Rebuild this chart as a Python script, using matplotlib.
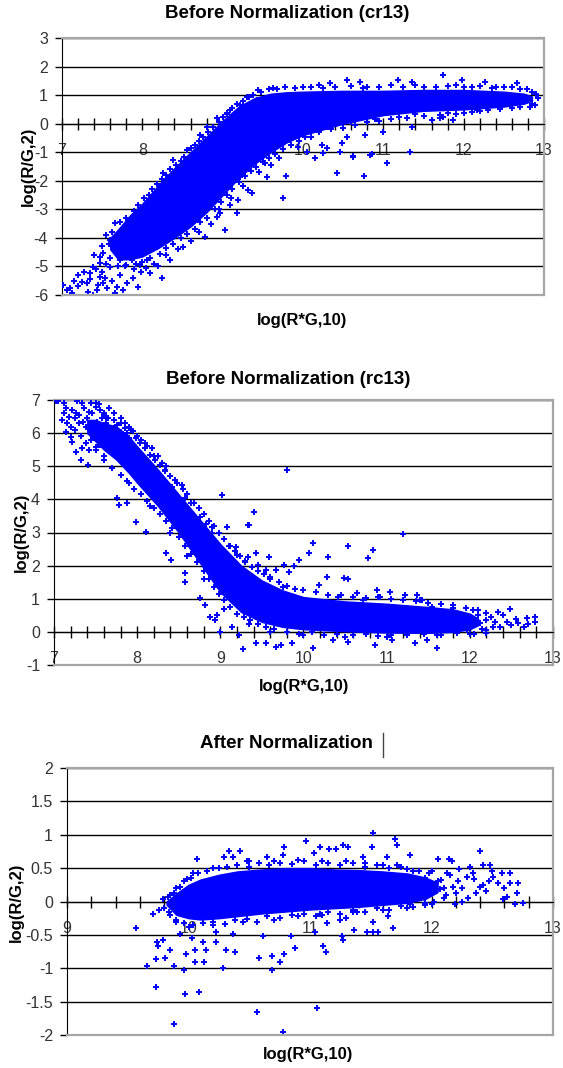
import numpy as np
import matplotlib.pyplot as plt
from matplotlib.ticker import MultipleLocator, FuncFormatter
from matplotlib.lines import Line2D

plt.rcParams['font.family'] = ['Liberation Sans', 'DejaVu Sans']
plt.rcParams['axes.unicode_minus'] = False

# ---- panel 1: before normalization (cr13) ----
# solid (saturated) part of the cloud: x, upper edge, lower edge
cr_core_x = [7.6, 7.7, 7.85, 8.0, 8.2, 8.4, 8.6, 8.8, 9.0, 9.2, 9.4, 9.6, 9.8, 10.0, 10.5, 11.0, 11.5, 12.0, 12.5, 12.75, 12.85]
cr_core_hi = [-4.0, -3.7, -3.2, -2.8, -2.15, -1.55, -1.0, -0.45, 0.1, 0.6, 0.9, 1.05, 1.1, 1.12, 1.15, 1.15, 1.18, 1.18, 1.12, 1.05, 0.95]
cr_core_lo = [-4.4, -4.75, -4.75, -4.65, -4.35, -4.0, -3.6, -3.1, -2.5, -1.9, -1.4, -1.0, -0.65, -0.4, 0.0, 0.3, 0.45, 0.5, 0.6, 0.7, 0.8]
# single spots outside the solid part
cr_pts = [
    (11.74, 1.7), (10.55, 1.53), (10.71, 1.46), (11.18, 1.53), (11.98, 1.53), (12.27, 1.46), (12.67, 1.43),
    (10.34, 1.43), (11.36, 1.46), (12.79, 1.21), (12.93, 0.9), (12.89, 0.65), (12.83, 0.58),
    (11.36, -0.12), (11.33, -0.99), (11.05, -1.38), (10.62, -1.17), (10.83, -1.1), (10.49, -0.68),
    (10.15, -1.2), (10.3, -0.85), (10.24, -0.75), (10.03, -0.47), (10.55, -0.47), (10.77, -0.4), (11.0, -0.29),
    (11.61, 0.13), (11.74, 0.23), (11.87, 0.13), (11.71, 0.2), (11.8, 0.37), (12.17, 0.48), (12.29, 0.58),
    (12.45, 0.55), (12.58, 0.62), (10.62, -1.13), (10.86, -1.06), (9.79, -1.83), (10.42, -1.73),
    (10.76, -1.83), (9.75, -2.6), (7.01, -5.65), (7.06, -5.82), (7.12, -5.93), (7.2, -5.68), (7.25, -5.54),
    (7.31, -5.58), (7.32, -5.89), (7.39, -6.0), (7.44, -5.82), (7.47, -5.37), (7.51, -5.58), (7.56, -5.75),
    (7.66, -5.93), (7.68, -5.72), (7.76, -5.82), (7.81, -5.58), (7.88, -5.4), (7.95, -5.72), (8.1, -5.23),
    (8.25, -5.4), (8.35, -4.77), (8.51, -4.32), (8.78, -3.97), (9.03, -3.72), (8.93, -3.27), (9.09, -2.85),
    (8.97, -3.13), (9.18, -3.13), (9.19, -2.67), (9.32, -2.32), (9.37, -2.43), (9.55, -1.87), (9.53, -1.38),
    (9.22, -1.87), (7.47, -4.88), (7.51, -4.53), (7.6, -4.07), (7.68, -4.0), (7.66, -3.48), (7.78, -3.62),
    (7.88, -3.27), (7.39, -5.02), (7.35, -5.23), (7.6, -5.02), (7.72, -4.77), (7.87, -4.77), (7.97, -4.95),
    (8.06, -4.77), (7.81, -4.42), (7.47, -4.67), (8.93, 0.2), (9.09, 0.48), (9.3, 0.93), (9.44, 1.18),
    (9.63, 1.25), (8.72, -0.4), (8.56, -0.92), (8.38, -1.27), (8.26, -1.73), (8.81, -0.12), (9.05, 0.37),
    (9.22, 0.65), (9.55, 0.83), (9.43, 0.83), (10.0, 1.3), (10.2, 1.35), (10.8, 1.3), (11.1, 1.35),
    (11.5, 1.3), (11.9, 1.35), (12.1, 1.3), (12.4, 1.3), (12.6, 1.28), (10.3, -0.1), (10.6, 0.05),
    (10.9, 0.15), (11.2, 0.25), (11.4, 0.35), (12.0, 0.38), (12.2, 0.45), (12.6, 0.55), (9.71, -0.33),
    (9.84, -0.57), (9.94, -0.82), (10.05, -0.99), (10.25, -1.03), (10.46, -0.99), (7.1, -5.75), (7.15, -5.5),
    (7.2, -5.3), (7.28, -5.2), (7.35, -5.45), (7.42, -5.1), (7.5, -5.2), (7.55, -4.9), (7.6, -4.7),
    (7.65, -4.4), (7.7, -4.2), (7.72, -5.3), (7.78, -5.0), (7.62, -5.5), (7.53, -5.4), (7.45, -5.65),
    (7.4, -4.6), (7.5, -4.3), (7.58, -4.2), (7.55, -3.9), (7.62, -3.8), (7.7, -3.95), (7.75, -4.45),
    (7.82, -3.9), (7.9, -5.1), (7.98, -5.2), (8.05, -5.05), (8.15, -4.9), (8.2, -5.0), (8.3, -4.6),
    (8.45, -4.4), (8.6, -4.1), (8.7, -3.8), (8.85, -3.5), (8.95, -3.0), (9.1, -2.6), (9.25, -2.2),
    (9.45, -1.7), (9.6, -1.45), (9.7, -1.2),
]
# spots hugging the edges of the solid part
cr_edge = [
    (7.72, -3.45), (7.8, -3.3), (7.9, -3.05), (7.95, -2.85), (8.02, -2.6), (8.08, -2.5), (8.12, -2.3),
    (8.18, -2.1), (8.24, -1.95), (8.3, -1.8), (8.35, -1.6), (8.42, -1.45), (8.48, -1.3), (8.52, -1.15),
    (8.6, -0.85), (8.65, -0.75), (8.7, -0.6), (8.75, -0.45), (8.82, -0.3), (8.88, -0.1), (8.95, 0.05),
    (9.0, 0.25), (9.06, 0.35), (9.12, 0.55), (9.18, 0.7), (9.25, 0.8), (9.33, 0.95), (9.38, 1.0),
    (9.48, 1.1), (9.58, 1.2), (9.68, 1.22), (9.78, 1.28), (9.9, 1.25), (10.1, 1.3), (10.25, 1.25),
    (10.4, 1.3), (10.6, 1.32), (10.75, 1.25), (10.95, 1.3), (11.25, 1.3), (11.4, 1.35), (11.65, 1.28),
    (11.8, 1.32), (12.0, 1.3), (12.2, 1.33), (12.35, 1.25), (12.5, 1.27), (12.7, 1.2), (12.85, 1.12),
    (12.9, 1.05), (7.7, -5.0), (7.8, -4.95), (7.92, -4.9), (8.0, -4.85), (8.1, -4.7), (8.22, -4.55),
    (8.3, -4.35), (8.38, -4.2), (8.48, -4.0), (8.55, -3.85), (8.65, -3.7), (8.72, -3.45), (8.8, -3.3),
    (8.9, -3.0), (8.98, -2.75), (9.05, -2.5), (9.12, -2.3), (9.2, -2.05), (9.28, -1.85), (9.35, -1.65),
    (9.42, -1.5), (9.5, -1.35), (9.58, -1.2), (9.65, -1.05), (9.75, -0.9), (9.85, -0.75), (9.95, -0.6),
    (10.1, -0.45), (10.2, -0.3), (10.35, -0.2), (10.5, -0.15), (10.65, -0.05), (10.8, 0.05), (10.95, 0.1),
    (11.1, 0.15), (11.3, 0.2), (11.5, 0.28), (11.7, 0.32), (11.9, 0.35), (12.1, 0.4), (12.3, 0.48),
    (12.45, 0.5), (12.7, 0.6), (12.85, 0.7),
]

# ---- panel 2: before normalization (rc13) ----
rc_core_x = [7.4, 7.5, 7.6, 7.75, 7.9, 8.0, 8.25, 8.5, 8.75, 9.0, 9.25, 9.5, 9.75, 10.0, 10.5, 11.0, 11.5, 11.8, 12.0, 12.1]
rc_core_hi = [6.4, 6.4, 6.3, 6.2, 5.9, 5.6, 4.9, 4.15, 3.4, 2.65, 2.0, 1.55, 1.25, 1.05, 0.92, 0.85, 0.75, 0.68, 0.55, 0.4]
rc_core_lo = [6.0, 5.75, 5.5, 5.2, 4.8, 4.5, 3.8, 3.0, 2.1, 1.2, 0.6, 0.3, 0.15, 0.08, 0.02, -0.02, -0.03, 0.0, 0.08, 0.2]
rc_pts = [
    (7.02, 6.97), (7.05, 6.97), (7.12, 6.9), (7.28, 6.97), (7.34, 6.9), (7.44, 6.9), (7.54, 6.88),
    (7.12, 6.6), (7.1, 6.4), (7.16, 6.3), (7.14, 6.03), (7.2, 5.88), (7.22, 5.73), (7.27, 5.43),
    (7.34, 5.55), (7.33, 5.19), (7.41, 5.04), (7.42, 5.49), (7.27, 6.6), (7.36, 6.76), (7.22, 6.7),
    (7.3, 6.3), (7.39, 6.18), (7.46, 6.6), (7.51, 6.79), (7.6, 6.6), (7.63, 6.49), (7.58, 6.0),
    (7.54, 5.79), (7.51, 5.58), (7.66, 5.88), (7.72, 6.15), (7.76, 6.24), (7.81, 6.03), (7.88, 6.0),
    (7.9, 5.85), (7.94, 5.43), (8.06, 5.19), (8.33, 4.89), (8.39, 4.37), (8.42, 4.37), (8.54, 4.43),
    (8.57, 4.04), (9.02, 4.13), (9.41, 3.62), (9.34, 3.22), (9.08, 3.16), (8.9, 3.16), (8.83, 3.25),
    (8.75, 3.46), (7.78, 3.83), (7.88, 3.89), (7.76, 4.04), (9.8, 4.89), (7.99, 3.31), (8.11, 3.01),
    (8.41, 2.17), (8.35, 2.38), (8.57, 1.77), (8.57, 1.5), (8.75, 1.02), (8.81, 0.81), (8.87, 0.45),
    (8.96, 0.51), (8.93, 0.36), (8.99, 0.0), (9.14, 0.14), (9.23, -0.09), (9.27, -0.52), (9.43, -0.34),
    (9.55, -0.34), (9.67, -0.46), (9.33, 3.22), (9.19, 2.56), (9.2, 2.32), (9.33, 2.26), (9.43, 2.38),
    (9.59, 2.26), (9.45, 2.02), (9.55, 1.86), (9.67, 1.86), (11.2, 2.95), (10.12, 2.68), (10.07, 2.38),
    (10.53, 2.59), (10.3, 2.26), (10.84, 2.47), (10.78, 2.23), (9.95, 2.17), (9.89, 1.99), (9.77, 2.02),
    (9.83, 1.8), (10.28, 1.65), (10.49, 1.62), (10.53, 1.59), (10.64, 1.17), (11.04, 1.2), (11.22, 1.11),
    (11.36, 1.11), (11.4, 0.96), (11.43, 0.96), (10.88, 1.26), (11.55, 0.75), (11.8, 0.72), (12.04, 0.66),
    (12.34, 0.6), (12.48, 0.69), (12.69, 0.42), (12.78, 0.45), (12.78, 0.3), (12.58, 0.27), (12.45, 0.3),
    (12.2, 0.36), (12.12, 0.27), (12.28, 0.14), (12.36, 0.14), (12.2, -0.03), (11.96, 0.06), (11.61, -0.49),
    (11.48, -0.25), (11.34, -0.34), (11.07, -0.25), (10.86, -0.4), (10.53, -0.31), (10.35, -0.25),
    (10.11, -0.49), (9.86, -0.34), (9.73, -0.4), (9.75, 1.35), (10.19, 1.41), (10.41, 1.05), (10.71, 0.96),
    (10.92, 1.05), (8.1, 5.7), (8.2, 5.3), (8.45, 4.6), (8.65, 3.9), (8.9, 3.0), (9.1, 2.6), (9.3, 2.1),
    (9.6, 1.65), (7.9, 4.5), (8.15, 3.8), (8.4, 3.0), (8.6, 2.3), (8.8, 1.6), (9.05, 0.7), (9.35, 0.25),
    (9.6, 0.0), (10.0, -0.1), (10.5, -0.15), (11.0, -0.15), (11.6, -0.1), (12.0, -0.05), (12.1, 0.5),
    (12.25, 0.45), (12.4, 0.5), (12.55, 0.4), (12.65, 0.15), (12.5, 0.2), (12.3, 0.3), (12.15, 0.1),
    (12.05, 0.35), (12.7, 0.25), (7.15, 6.75), (7.18, 6.5), (7.25, 6.45), (7.3, 6.55), (7.35, 6.35),
    (7.4, 6.45), (7.45, 6.25), (7.48, 6.05), (7.52, 6.35), (7.55, 6.2), (7.58, 6.45), (7.62, 6.3),
    (7.66, 6.1), (7.7, 5.95), (7.25, 6.1), (7.32, 5.9), (7.38, 5.7), (7.45, 5.8), (7.5, 5.5), (7.55, 5.65),
    (7.6, 5.3), (7.65, 5.6), (7.7, 5.45), (7.2, 6.2), (7.42, 6.65), (7.5, 6.9), (7.55, 6.7), (7.66, 6.75),
    (7.72, 6.6), (7.8, 6.45), (7.85, 6.3), (7.9, 6.2), (7.95, 6.05), (8.0, 5.9), (8.05, 5.8), (8.12, 5.6),
    (8.18, 5.55), (8.25, 5.3), (8.3, 5.1), (8.35, 5.0),
]
rc_edge = [
    (7.6, 6.55), (7.65, 6.45), (7.72, 6.4), (7.8, 6.3), (7.85, 6.15), (7.92, 6.1), (7.98, 5.85), (8.04, 5.7),
    (8.1, 5.55), (8.16, 5.35), (8.22, 5.2), (8.28, 5.05), (8.34, 4.85), (8.4, 4.7), (8.48, 4.5), (8.55, 4.3),
    (8.6, 4.15), (8.68, 3.9), (8.74, 3.75), (8.8, 3.55), (8.86, 3.35), (8.92, 3.2), (8.98, 3.0), (9.05, 2.8),
    (9.12, 2.6), (9.18, 2.45), (9.24, 2.3), (9.3, 2.15), (9.38, 1.95), (9.45, 1.85), (9.52, 1.75), (9.6, 1.6),
    (9.7, 1.5), (9.8, 1.4), (9.9, 1.3), (10.0, 1.25), (10.15, 1.2), (10.3, 1.1), (10.45, 1.12), (10.6, 1.05),
    (10.75, 1.02), (10.9, 1.05), (11.05, 0.98), (11.2, 0.95), (11.35, 0.92), (11.5, 0.88), (11.65, 0.85),
    (11.8, 0.8), (11.95, 0.72), (12.1, 0.65), (12.2, 0.58), (7.6, 5.2), (7.7, 4.95), (7.8, 4.75),
    (7.88, 4.55), (7.96, 4.3), (8.05, 4.15), (8.12, 3.95), (8.2, 3.75), (8.28, 3.55), (8.35, 3.35),
    (8.42, 3.15), (8.5, 2.85), (8.58, 2.6), (8.65, 2.35), (8.72, 2.1), (8.8, 1.85), (8.86, 1.6), (8.92, 1.35),
    (8.98, 1.15), (9.05, 0.95), (9.12, 0.75), (9.2, 0.55), (9.28, 0.45), (9.36, 0.35), (9.45, 0.25),
    (9.55, 0.15), (9.65, 0.1), (9.8, 0.0), (9.95, -0.05), (10.1, 0.0), (10.25, -0.08), (10.4, -0.05),
    (10.6, -0.1), (10.75, -0.05), (10.9, -0.12), (11.05, -0.08), (11.25, -0.1), (11.45, -0.05),
    (11.65, -0.08), (11.85, -0.02), (12.05, -0.05), (12.2, 0.05),
]

# ---- panel 3: after normalization ----
an_core_x = [9.82, 9.9, 10.0, 10.1, 10.25, 10.4, 10.6, 10.8, 11.0, 11.2, 11.4, 11.6, 11.8, 11.95, 12.05]
an_core_hi = [0.0, 0.12, 0.25, 0.33, 0.4, 0.45, 0.48, 0.5, 0.5, 0.48, 0.47, 0.45, 0.42, 0.36, 0.28]
an_core_lo = [-0.05, -0.2, -0.25, -0.27, -0.25, -0.22, -0.18, -0.15, -0.12, -0.1, -0.08, -0.05, -0.02, 0.04, 0.14]
an_pts = [
    (9.57, -0.39), (9.66, -0.96), (9.73, -0.86), (9.73, -1.28), (9.74, -0.6), (9.75, -0.67), (9.81, -0.84),
    (9.85, -0.72), (9.88, -0.96), (9.88, -1.84), (9.96, -1.02), (9.97, -1.39), (9.98, -0.79), (10.05, -0.73),
    (10.05, -0.91), (10.09, -1.35), (10.13, -0.91), (10.14, -0.73), (10.12, -0.6), (10.23, -0.61),
    (10.28, -1.0), (10.31, -0.73), (10.38, -0.75), (10.56, -1.65), (10.58, -0.84), (10.61, -0.52),
    (10.69, -0.81), (10.69, -1.02), (10.37, -0.49), (10.23, -0.46), (10.03, -0.54), (9.93, -0.49),
    (9.79, -0.57), (9.71, -0.19), (9.76, -0.12), (10.78, -1.96), (11.06, -1.59), (10.75, -0.91),
    (10.79, -0.79), (10.88, -0.69), (10.84, -0.52), (11.11, -0.67), (11.13, -0.76), (11.26, -0.52),
    (11.27, -0.57), (11.04, -0.46), (11.14, -0.32), (11.08, -0.19), (11.36, -0.42), (11.47, -0.45),
    (11.52, -0.45), (11.56, -0.45), (11.52, -0.3), (11.68, -0.39), (11.64, -0.22), (11.39, -0.16),
    (11.3, -0.24), (11.25, -0.27), (11.82, -0.04), (12.0, -0.04), (12.19, -0.04), (12.25, 0.0),
    (12.37, 0.13), (12.62, 0.06), (12.69, -0.04), (12.75, -0.02), (11.52, 1.02), (11.7, 0.93),
    (11.72, 0.85), (10.97, 0.9), (10.79, 0.81), (11.08, 0.82), (11.16, 0.78), (11.21, 0.78), (11.27, 0.85),
    (11.31, 0.81), (11.51, 0.81), (12.4, 0.76), (11.82, 0.69), (10.78, 0.7), (11.03, 0.73), (11.44, 0.66),
    (11.63, 0.66), (12.14, 0.63), (12.17, 0.6), (12.05, 0.63), (12.42, 0.55), (12.48, 0.55), (12.32, 0.52),
    (12.58, 0.43), (12.65, 0.43), (12.65, 0.28), (12.71, 0.28), (12.55, 0.28), (12.47, 0.3), (12.42, 0.25),
    (12.51, 0.37), (12.34, 0.43), (12.23, 0.48), (12.29, 0.36), (12.22, 0.3), (12.13, 0.43), (12.18, 0.22),
    (12.07, 0.18), (12.59, 0.03), (12.4, 0.22), (10.07, 0.63), (10.29, 0.66), (10.33, 0.75), (10.42, 0.75),
    (10.37, 0.67), (10.48, 0.6), (10.65, 0.66), (10.04, 0.43), (9.99, 0.33), (9.93, 0.22), (9.88, 0.13),
    (9.83, 0.06), (9.79, 0.03), (11.9, 0.1), (11.95, 0.35), (12.0, 0.45), (12.05, 0.3), (12.1, 0.05),
    (12.15, 0.4), (12.2, 0.12), (12.25, 0.2), (12.3, 0.05), (12.35, 0.33), (12.45, 0.15), (12.5, 0.45),
    (12.6, 0.2), (12.7, 0.12), (10.2, 0.5), (10.5, 0.6), (10.7, 0.6), (10.9, 0.62), (11.1, 0.6), (11.3, 0.6),
    (11.45, 0.58), (11.6, 0.55), (11.75, 0.52), (11.85, 0.45), (10.0, -0.38), (10.2, -0.35), (10.45, -0.3),
    (10.7, -0.28), (10.9, -0.22), (11.1, -0.2), (11.35, -0.15), (11.6, -0.12), (11.8, -0.1), (11.95, -0.05),
    (9.9, -0.3), (9.85, -0.2), (9.8, -0.1),
]
an_edge = [
    (9.85, 0.1), (9.9, 0.2), (9.96, 0.3), (10.02, 0.35), (10.08, 0.42), (10.15, 0.45), (10.25, 0.5),
    (10.32, 0.52), (10.4, 0.55), (10.5, 0.52), (10.58, 0.58), (10.66, 0.55), (10.75, 0.58), (10.85, 0.56),
    (10.95, 0.6), (11.05, 0.55), (11.15, 0.58), (11.25, 0.55), (11.35, 0.57), (11.45, 0.52), (11.55, 0.55),
    (11.65, 0.5), (11.72, 0.55), (11.8, 0.48), (11.9, 0.45), (11.98, 0.42), (9.84, -0.15), (9.9, -0.28),
    (9.96, -0.32), (10.04, -0.35), (10.12, -0.32), (10.2, -0.3), (10.3, -0.33), (10.38, -0.28),
    (10.48, -0.26), (10.56, -0.3), (10.65, -0.22), (10.75, -0.25), (10.85, -0.2), (10.95, -0.18),
    (11.05, -0.22), (11.15, -0.15), (11.25, -0.18), (11.35, -0.12), (11.45, -0.15), (11.55, -0.1),
    (11.65, -0.12), (11.75, -0.06), (11.85, -0.08), (11.95, -0.02), (12.08, 0.32), (12.1, 0.2),
    (12.12, 0.1), (12.02, 0.0),
]

W, H = 563, 1068
BLUE = '#0000ff'
GRAY = '#a6a6a6'

fig = plt.figure(figsize=(W / 100, H / 100), dpi=100)


def box(left, top, right, bottom):
    return [left / W, 1 - bottom / H, (right - left) / W, (bottom - top) / H]


def label_fmt(v, pos):
    return '%g' % round(v, 2)


def draw_panel(rect, xlim, ylim, ystep, core_x, core_hi, core_lo, pts, edge):
    ax = fig.add_axes(rect)
    ax.set_xlim(*xlim)
    ax.set_ylim(*ylim)
    ax.set_axisbelow(True)

    ax.fill_between(core_x, core_lo, core_hi, color=BLUE, lw=1.0, edgecolor=BLUE, zorder=3)
    p = np.array(pts + edge)
    ax.plot(p[:, 0], p[:, 1], '+', color=BLUE, ms=4.5, mew=1.4, zorder=4)

    ax.yaxis.set_major_locator(MultipleLocator(ystep))
    ax.yaxis.set_major_formatter(FuncFormatter(label_fmt))
    ax.xaxis.set_major_locator(MultipleLocator(1))
    ax.xaxis.set_minor_locator(MultipleLocator(0.2))
    ax.xaxis.set_major_formatter(FuncFormatter(label_fmt))
    ax.yaxis.grid(True, color='black', lw=1.0)

    ax.spines['bottom'].set_position(('data', 0))
    ax.spines['bottom'].set_color('black')
    ax.spines['left'].set_color('black')
    for s in ('top', 'right'):
        ax.spines[s].set_color(GRAY)
        ax.spines[s].set_linewidth(1.6)
    ax.axhline(ylim[0], color=GRAY, lw=1.6, clip_on=False, zorder=5)

    ax.tick_params(axis='x', which='both', direction='inout', length=8, width=1, color='black',
                   labelsize=11.5, labelcolor='#333333', pad=10)
    ax.tick_params(axis='y', direction='out', length=5, width=1, color='black',
                   labelsize=11.5, labelcolor='#333333', pad=5)
    return ax


def ftext(x, y, s, **kw):
    fig.text(x / W, 1 - y / H, s, ha='center', va='center', **kw)


draw_panel(box(62, 38, 544, 295), (7, 13), (-6, 3), 1, cr_core_x, cr_core_hi, cr_core_lo, cr_pts, cr_edge)
draw_panel(box(54, 400, 553, 665), (7, 13), (-1, 7), 1, rc_core_x, rc_core_hi, rc_core_lo, rc_pts, rc_edge)
draw_panel(box(67, 768, 553, 1035), (9, 13), (-2, 2), 0.5, an_core_x, an_core_hi, an_core_lo, an_pts, an_edge)

ftext(287, 14, 'Before Normalization (cr13)', fontsize=13.5, fontweight='bold')
ftext(288, 380, 'Before Normalization (rc13)', fontsize=13.5, fontweight='bold')
ftext(286, 744, 'After Normalization', fontsize=13.5, fontweight='bold')
fig.add_artist(Line2D([383 / W, 383 / W], [1 - 733 / H, 1 - 757 / H], color='#444444', lw=1))

ftext(302, 320, 'log(R*G,10)', fontsize=12, fontweight='bold')
ftext(304, 686, 'log(R*G,10)', fontsize=12, fontweight='bold')
ftext(308, 1055, 'log(R*G,10)', fontsize=12, fontweight='bold')

ftext(28, 166, 'log(R/G,2)', fontsize=12, fontweight='bold', rotation=90)
ftext(21, 532, 'log(R/G,2)', fontsize=12, fontweight='bold', rotation=90)
ftext(16, 902, 'log(R/G,2)', fontsize=12, fontweight='bold', rotation=90)

fig.savefig('out.png', dpi=100)
